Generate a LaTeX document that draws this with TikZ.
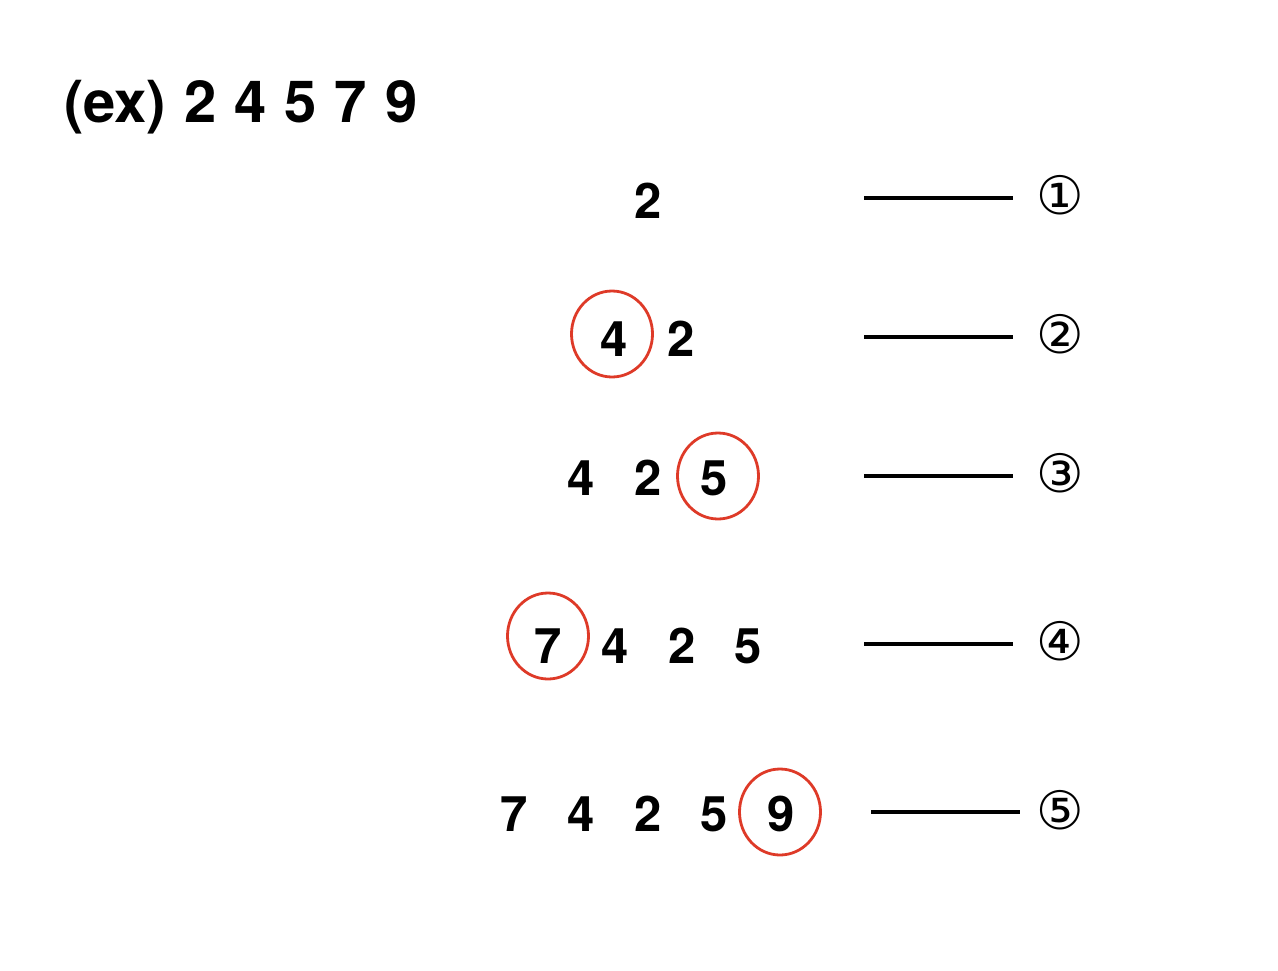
\documentclass[tikz,border=0pt]{standalone}
\usepackage{fontspec}
\setmainfont{TeX Gyre Heros}
\newfontfamily\symfont{DejaVu Sans}
\usetikzlibrary{shapes.geometric}
\definecolor{hlred}{RGB}{222,58,40}
\tikzset{
  digit/.style={inner sep=0pt, font=\fontsize{49}{55}\selectfont\bfseries},
  mark circle/.style={draw=hlred, line width=2.8pt, ellipse, inner sep=0pt, minimum width=81pt, minimum height=86pt},
  rule/.style={line width=3.6pt},
  circnum/.style={inner sep=0pt, font=\fontsize{53}{58}\selectfont\symfont}
}
\begin{document}
\begin{tikzpicture}[x=1pt,y=-1pt]
\useasboundingbox (0,0) rectangle (1278,970);
\node[inner sep=0pt, anchor=base west, font=\fontsize{58}{64}\selectfont\bfseries] (title) at (64,122) {(ex)\hspace{18pt}2\hspace{18pt}4\hspace{18pt}5\hspace{18pt}7\hspace{18pt}9};

% row 1
\node[digit] (r1a) at (648,200.5) {2};
\coordinate (l1s) at (864,198); \coordinate (l1e) at (1013,198);
\draw[rule] (l1s) -- (l1e);
\node[circnum] (n1) at (1060,195) {①};

% row 2
\node[digit] (r2a) at (614,339) {4};
\node[digit] (r2b) at (681,339) {2};
\node[mark circle] (c2) at (612,334) {};
\coordinate (l2s) at (864,337); \coordinate (l2e) at (1013,337);
\draw[rule] (l2s) -- (l2e);
\node[circnum] (n2) at (1060,334) {②};

% row 3
\node[digit] (r3a) at (581,478) {4};
\node[digit] (r3b) at (648,478) {2};
\node[digit] (r3c) at (714,478) {5};
\node[mark circle] (c3) at (718,476) {};
\coordinate (l3s) at (864,476); \coordinate (l3e) at (1013,476);
\draw[rule] (l3s) -- (l3e);
\node[circnum] (n3) at (1060,473) {③};

% row 4
\node[digit] (r4a) at (548,646) {7};
\node[digit] (r4b) at (615,646) {4};
\node[digit] (r4c) at (682,646) {2};
\node[digit] (r4d) at (748,646) {5};
\node[mark circle] (c4) at (548,636) {};
\coordinate (l4s) at (864,644); \coordinate (l4e) at (1013,644);
\draw[rule] (l4s) -- (l4e);
\node[circnum] (n4) at (1060,641) {④};

% row 5
\node[digit] (r5a) at (514,814) {7};
\node[digit] (r5b) at (581,814) {4};
\node[digit] (r5c) at (648,814) {2};
\node[digit] (r5d) at (714,814) {5};
\node[digit] (r5e) at (781,814) {9};
\node[mark circle] (c5) at (780,812) {};
\coordinate (l5s) at (871,812); \coordinate (l5e) at (1020,812);
\draw[rule] (l5s) -- (l5e);
\node[circnum] (n5) at (1060,810) {⑤};
\end{tikzpicture}
\end{document}
